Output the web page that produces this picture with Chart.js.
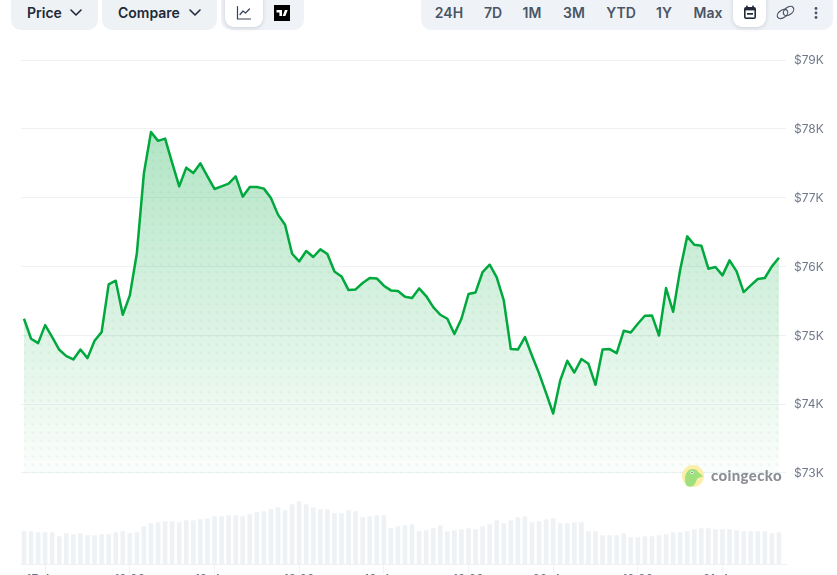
<!DOCTYPE html>
<html>
<head>
<meta charset="utf-8">
<title>Bitcoin price chart</title>
<script src="https://cdn.jsdelivr.net/npm/chart.js@4"></script>
<style>
  html, body { margin: 0; padding: 0; background: #fff; width: 837px; height: 575px; overflow: hidden; font-family: Inter, "Noto Sans", sans-serif; }
  #wrap { position: absolute; left: 0; top: 0; width: 837px; height: 600px; }
  .pill { position: absolute; top: -10px; height: 40px; background: #eff2f5; border-radius: 10px; }
  .pill.soft { background: #eff3f8; }
  .white { position: absolute; top: -10px; height: 37px; background: #fff; border-radius: 9px; box-shadow: 0 1px 4px rgba(16,24,40,.16); }
  .lbl { position: absolute; top: 4px; line-height: 18px; font-size: 14px; font-weight: 600; color: #202939; white-space: nowrap; }
  .rng { position: absolute; top: 4px; line-height: 18px; font-size: 14px; font-weight: 600; color: #4b5565; transform: translateX(-50%); white-space: nowrap; }
  svg { position: absolute; }
  #logoText { position: absolute; left: 711px; top: 466px; line-height: 18px; font-family: Lato, Inter, sans-serif; font-size: 15px; font-weight: 900; color: #8b8f95; letter-spacing: .35px; }
</style>
</head>
<body>
<div id="wrap"><canvas id="myChart" width="837" height="600"></canvas></div>

<div class="pill" style="left:11px;width:87px"></div>
<div class="lbl" style="left:27px">Price</div>
<svg style="left:69px;top:8px" width="14" height="10" viewBox="0 0 14 10"><path d="M2 2l5 5 5-5" fill="none" stroke="#202939" stroke-width="1.6" stroke-linecap="round" stroke-linejoin="round"/></svg>
<div class="pill" style="left:102px;width:115px"></div>
<div class="lbl" style="left:118px">Compare</div>
<svg style="left:188px;top:8px" width="14" height="10" viewBox="0 0 14 10"><path d="M2 2l5 5 5-5" fill="none" stroke="#202939" stroke-width="1.6" stroke-linecap="round" stroke-linejoin="round"/></svg>

<div class="pill soft" style="left:221px;width:83px"></div>
<div class="white" style="left:225px;width:38px"></div>
<svg style="left:236px;top:5px" width="16" height="16" viewBox="0 0 16 16"><path d="M1.5 1.5v12.5h13M4 9.5l3-3.5 2.5 2 4-4" fill="none" stroke="#364152" stroke-width="1.2" stroke-linecap="round" stroke-linejoin="round"/></svg>
<svg style="left:274px;top:5px" width="16" height="16" viewBox="0 0 16 16"><rect width="16" height="16" fill="#000"/><path d="M2.5 5h5.5v6h-2.6v-3.4h-2.9zM8.7 11l2.2-6h2.8l-2.3 6z" fill="#fff"/></svg>

<div class="pill soft" style="left:421px;width:412px"></div>
<div class="rng" style="left:449px">24H</div>
<div class="rng" style="left:493px">7D</div>
<div class="rng" style="left:532px">1M</div>
<div class="rng" style="left:574px">3M</div>
<div class="rng" style="left:621px">YTD</div>
<div class="rng" style="left:664px">1Y</div>
<div class="rng" style="left:708px">Max</div>
<div class="white" style="left:733px;width:33px"></div>
<svg style="left:743px;top:5px" width="14" height="15" viewBox="0 0 14 15"><rect x="1" y="2" width="12" height="12" rx="2" fill="#202939"/><rect x="2.6" y="5.4" width="8.8" height="7" fill="#fff"/><rect x="4" y="8" width="6" height="1.7" fill="#202939"/><rect x="3.2" y=".6" width="1.6" height="3" fill="#202939"/><rect x="9.2" y=".6" width="1.6" height="3" fill="#202939"/></svg>
<svg style="left:776px;top:4px" width="19" height="17" viewBox="0 0 19 17"><g fill="none" stroke="#4b5565" stroke-width="1.2"><ellipse cx="6.5" cy="10" rx="5.8" ry="3.8" transform="rotate(-35 6.5 10)"/><ellipse cx="12.5" cy="7" rx="5.8" ry="3.8" transform="rotate(-35 12.5 7)"/></g></svg>
<svg style="left:813px;top:5px" width="6" height="16" viewBox="0 0 6 16"><g fill="#4b5565"><circle cx="3" cy="3.5" r="1.4"/><circle cx="3" cy="8" r="1.4"/><circle cx="3" cy="12.5" r="1.4"/></g></svg>

<svg style="left:682px;top:465px" width="22" height="22" viewBox="0 0 22 22"><circle cx="11" cy="11" r="11" fill="#fbeea8"/><path d="M4 20c-2-6-1-12 3-15 4-2 8-1 9 2l5 4c-2 2-5 1-6 3-1 3-2 5-4 7-3 1-5 1-7-1z" fill="#9fe07c"/><circle cx="10" cy="7.5" r="1.6" fill="#fff"/><circle cx="10" cy="7.5" r=".8" fill="#58706a"/></svg>
<div id="logoText">coingecko</div>

<script>
  // price per hour
  const prices = [
    75240, 74949, 74886, 75148, 74974, 74789, 74697, 74648, 74793, 74668, 74920, 75046,
    75739, 75793, 75298, 75579, 76196, 77359, 77955, 77825, 77858, 77505, 77164, 77436,
    77359, 77499, 77310, 77126, 77164, 77204, 77310, 77014, 77155, 77155, 77131, 76996,
    76753, 76607, 76185, 76073, 76225, 76137, 76248, 76181, 75928, 75855, 75657, 75666,
    75759, 75832, 75826, 75720, 75652, 75643, 75560, 75541, 75681, 75570, 75410, 75298,
    75240, 75017, 75240, 75599, 75622, 75919, 76025, 75841, 75506, 74799, 74793, 74974,
    74702, 74446, 74159, 73863, 74343, 74629, 74459, 74654, 74585, 74280, 74793, 74799,
    74741, 75065, 75041, 75167, 75284, 75288, 74997, 75686, 75342, 75953, 76437, 76316,
    76302, 75967, 75992, 75870, 76088, 75928, 75628, 75724, 75817, 75832, 76001, 76127
  ];

  const volumes = [
    33, 33, 32, 32, 32, 28, 31, 30, 31, 29, 29, 30,
    30, 32, 33, 31, 32, 38, 41, 42, 43, 43, 42, 44,
    44, 45, 46, 48, 48, 49, 49, 48, 50, 52, 53, 55,
    57, 54, 60, 63, 60, 57, 55, 55, 51, 51, 54, 53,
    47, 48, 49, 49, 36, 38, 39, 40, 33, 34, 36, 39,
    33, 34, 35, 36, 35, 38, 40, 44, 41, 44, 47, 48,
    42, 43, 45, 46, 41, 41, 42, 42, 33, 33, 29, 29,
    29, 31, 27, 27, 28, 28, 29, 30, 32, 32, 33, 35,
    36, 36, 35, 35, 35, 34, 33, 33, 33, 33, 31, 32
  ];

  const priceTicks = [73000, 74000, 75000, 76000, 77000, 78000, 79000];
  const timeTicks = [3, 15, 27, 39, 51, 63, 75, 87, 99];
  const timeLabels = ["17. Apr", "12:00", "18. Apr", "12:00", "19. Apr", "12:00", "20. Apr", "12:00", "21. Apr"];

  const green = "#00a83e";
  const gridColor = "#eff2f5";

  // fill = green fade plus a grid of faint dots, kept in canvas coordinates
  var makeFill = function() {
    var off = document.createElement("canvas");
    off.width = 837;
    off.height = 600;
    var c = off.getContext("2d");
    var grad = c.createLinearGradient(0, 132, 0, 473);
    grad.addColorStop(0, "rgba(0,168,62,0.30)");
    grad.addColorStop(1, "rgba(0,168,62,0.01)");
    c.fillStyle = grad;
    c.fillRect(0, 0, 837, 600);
    c.fillStyle = "rgba(0,168,62,0.055)";
    for (var y = 64.5; y < 474; y += 8) {
      for (var x = 25; x < 782; x += 8) {
        c.beginPath();
        c.arc(x, y, 1.6, 0, Math.PI * 2);
        c.fill();
      }
    }
    return document.createElement("canvas").getContext("2d").createPattern(off, "no-repeat");
  };

  new Chart(document.getElementById("myChart"), {
    data: {
      datasets: [
        {
          type: "line",
          data: prices.map((p, i) => ({ x: i, y: p })),
          yAxisID: "y",
          borderColor: green,
          borderWidth: 2.5,
          pointRadius: 0,
          tension: 0,
          borderJoinStyle: "round",
          fill: { target: { value: 73000 } },
          backgroundColor: makeFill(),
          order: 1
        },
        {
          type: "bar",
          data: volumes.map((v, i) => ({ x: i, y: v })),
          yAxisID: "yVol",
          backgroundColor: "#eff2f5",
          barThickness: 4,
          order: 2
        }
      ]
    },
    options: {
      responsive: false,
      animation: false,
      devicePixelRatio: 1,
      layout: { padding: { left: 21, top: 60, right: 0, bottom: 0 } },
      plugins: { legend: { display: false }, tooltip: { enabled: false } },
      scales: {
        x: {
          type: "linear",
          offset: false,
          min: -0.425,
          max: 108,
          afterBuildTicks: axis => { axis.ticks = timeTicks.map(v => ({ value: v })); },
          afterFit: axis => { axis.height = 35.5; },
          grid: { offset: false, drawOnChartArea: false, color: gridColor, tickLength: 9, tickWidth: 1 },
          border: { color: gridColor },
          ticks: {
            autoSkip: false,
            maxRotation: 0,
            padding: -1,
            color: "#697586",
            font: { family: "Inter", size: 12 },
            callback: v => timeLabels[timeTicks.indexOf(v)]
          }
        },
        y: {
          position: "right",
          min: 71669,
          max: 79000,
          afterBuildTicks: axis => { axis.ticks = priceTicks.map(v => ({ value: v })); },
          afterFit: axis => { axis.width = 51; },
          grid: { color: gridColor, drawTicks: false },
          border: { display: false },
          ticks: {
            padding: 8,
            labelOffset: 0.7,
            color: "#707a8a",
            font: { family: "Inter", size: 12 },
            callback: v => "$" + v / 1000 + "K"
          }
        },
        yVol: {
          display: false,
          min: 0,
          max: 504.5
        }
      }
    }
  });
</script>
</body>
</html>
